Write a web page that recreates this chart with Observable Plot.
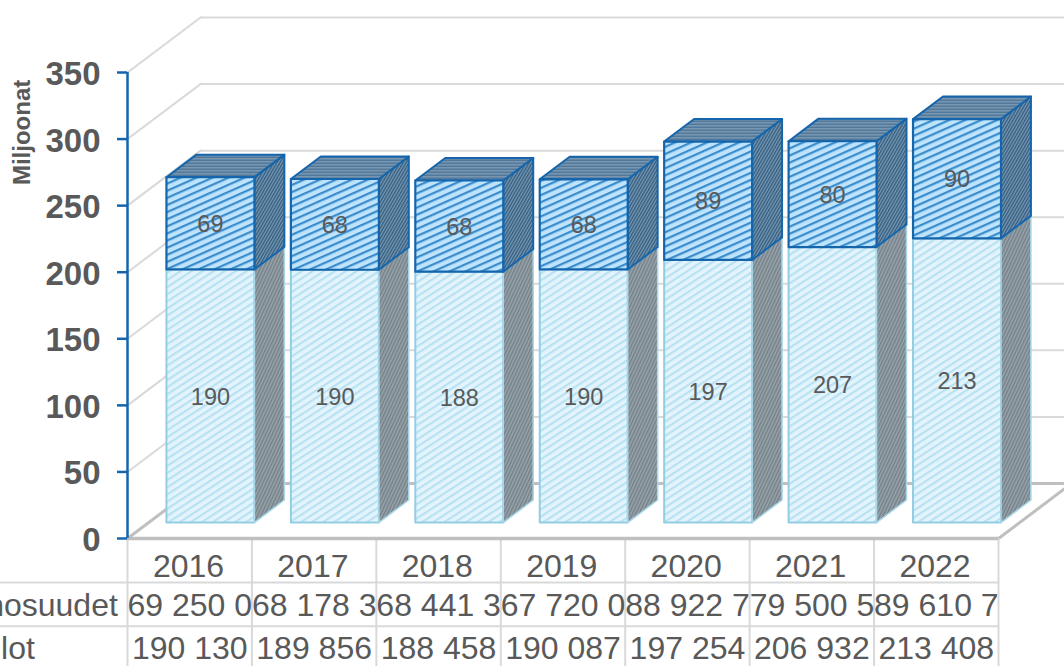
<!DOCTYPE html>
<html><head><meta charset="utf-8">
<script src="https://cdn.jsdelivr.net/npm/d3@7"></script>
<script src="https://cdn.jsdelivr.net/npm/@observablehq/plot@0.6"></script>
<style>html,body{margin:0;padding:0;background:#fff;overflow:hidden}</style>
</head><body><div id="chart"></div>
<script>
const years = ["2016","2017","2018","2019","2020","2021","2022"];
const verotulot = [190.130,189.856,188.458,190.087,197.254,206.932,213.408];
const valtionosuudet = [69.250,68.178,68.441,67.720,88.922,79.500,89.610];
const valtionText = ["69 250 0","68 178 3","68 441 3","67 720 0","88 922 7","79 500 5","89 610 7"];
const verotulotText = ["190 130","189 856","188 458","190 087","197 254","206 932","213 408"];
const rowNames = ["Valtionosuudet","Verotulot"];
const yTicks = [0,50,100,150,200,250,300,350];

// oblique depth projection in data units (one unit of depth moves the point by these amounts)
const depthX = 0.587, depthY = 41.3;
const barStart = 0.313, barEnd = 1.02, depthNear = 0.29, depthFar = 0.70;
const proj = (c, v, d) => ({x: c + d*depthX, y: v + d*depthY});
const poly = (id, pts) => pts.map(p => ({id, ...proj(...p)}));
const rows = {v:-50.5, o:-21, w:-83};

const fronts = (lo, hi) => years.flatMap((yr,i)=>{
  const a=i+barStart-depthNear*depthX, b=i+barEnd-depthNear*depthX;
  const v0=lo(i), v1=hi(i);
  return poly(yr,[[a,v0,depthNear],[b,v0,depthNear],[b,v1,depthNear],[a,v1,depthNear]]);
});
const sides = (lo, hi) => years.flatMap((yr,i)=>{
  const b=i+barEnd-depthNear*depthX;
  return poly(yr,[[b,lo(i),depthNear],[b,lo(i),depthFar],[b,hi(i),depthFar],[b,hi(i),depthNear]]);
});
const tops = (hi) => years.flatMap((yr,i)=>{
  const a=i+barStart-depthNear*depthX, b=i+barEnd-depthNear*depthX;
  return poly(yr,[[a,hi(i),depthNear],[b,hi(i),depthNear],[b,hi(i),depthFar],[a,hi(i),depthFar]]);
});
const lo0 = i => 0, loTop = i => verotulot[i], upTop = i => verotulot[i]+valtionosuudet[i];

function hatch(defs,id,bg,fg,size,w,angle){
  const p=defs.append("pattern").attr("id",id).attr("patternUnits","userSpaceOnUse")
    .attr("width",size).attr("height",size).attr("patternTransform",`rotate(${angle})`);
  p.append("rect").attr("width",size).attr("height",size).attr("fill",bg);
  p.append("rect").attr("width",size).attr("height",w).attr("fill",fg);
}
const patterns = () => {
  const g=d3.create("svg:g"), defs=g.append("defs");
  hatch(defs,"lowFront","#e3f4fc","#b8e2f2",6,2.2,-33);
  hatch(defs,"lowSide","#98a2a8","#707f88",3,1.3,-65);
  hatch(defs,"upFront","#bde4fc","#3a8ccb",6.5,2.2,-24);
  hatch(defs,"upSide","#7b97ad","#2e5d84",2.6,1.3,-60);
  hatch(defs,"upTop","#8ba5bb","#3d6a90",3,1.5,0);
  return g.node();
};

const grid = "#d9d9d9", floor = "#bfbfbf", ink = "#595959", blue="#1565ad";
const face = (data,fill,stroke,strokeWidth)=>Plot.line(data,{x:"x",y:"y",z:"id",curve:"linear-closed",fill,stroke,strokeWidth,strokeLinejoin:"round"});
const lineOf = (id,a,b)=>poly(id,[a,b]);

const wall = yTicks.filter(v=>v>0).flatMap(v=>[...lineOf("s"+v,[0,v,0],[0,v,1]),...lineOf("b"+v,[0,v,1],[7,v,1])]);
const floorEdges = [...lineOf("l",[0,0,0],[0,0,1]),...lineOf("bk",[0,0,1],[7,0,1]),...lineOf("r",[7,0,0],[7,0,1])];

const chart = Plot.plot({
  width:1064,height:666,marginLeft:127,marginRight:66,marginTop:72,marginBottom:128,
  style:{fontFamily:"'Liberation Sans',Arial,sans-serif",background:"#fff"},
  x:{domain:[0,7],axis:null},
  y:{domain:[0,350],axis:null},
  marks:[
    patterns,
    Plot.line(wall,{x:"x",y:"y",z:"id",stroke:grid,strokeWidth:2}),
    Plot.line(floorEdges,{x:"x",y:"y",z:"id",stroke:floor,strokeWidth:3}),
    // table grid
    Plot.ruleX(d3.range(8),{y1:0,y2:-97,stroke:grid,strokeWidth:2}),
    Plot.ruleY([-33,-66],{x1:-2,x2:7,stroke:grid,strokeWidth:2}),
    Plot.ruleY([0],{x1:0,x2:7,stroke:floor,strokeWidth:3.5}),
    // bars
    face(fronts(lo0,loTop),"url(#lowFront)","#93cde4",2),
    face(sides(lo0,loTop),"url(#lowSide)","#a8d8ea",1.5),
    face(sides(loTop,upTop),"url(#upSide)",blue,2),
    face(tops(upTop),"url(#upTop)",blue,2),
    face(fronts(loTop,upTop),"url(#upFront)",blue,2.2),
    // bar labels
    Plot.text(years,{x:(d,i)=>i+(barStart+barEnd)/2,y:(d,i)=>proj(0,verotulot[i]/2,depthNear).y,text:(d,i)=>d3.format(".0f")(verotulot[i]),fontSize:23.5,fill:ink,dy:1}),
    Plot.text(years,{x:(d,i)=>i+(barStart+barEnd)/2,y:(d,i)=>proj(0,verotulot[i]+valtionosuudet[i]/2,depthNear).y,text:(d,i)=>d3.format(".0f")(valtionosuudet[i]),fontSize:23.5,fill:ink,dy:1}),
    // y axis
    Plot.ruleX([0],{y1:0,y2:350,stroke:blue,strokeWidth:2.5}),
    Plot.axisY({ticks:yTicks,anchor:"left",tickSize:10,label:null,stroke:blue,strokeWidth:2.5,fill:"none",tickFormat:d=>d}),
    Plot.axisY({ticks:yTicks,anchor:"left",tickSize:0,tickPadding:27,label:null,fontSize:33,fontWeight:"bold",fill:ink,dy:2,tickFormat:d=>d}),
    Plot.text(["Miljoonat"],{x:()=>0,y:()=>305,dx:-105,rotate:-90,fontSize:24,fontWeight:"bold",fill:ink,text:d=>d}),
    // table text
    Plot.text(years,{x:(d,i)=>i+0.49,y:()=>rows.o,text:d=>d,fontSize:32,fill:ink}),
    Plot.text(valtionText,{x:(d,i)=>i,y:()=>rows.v,text:d=>d,dx:0,textAnchor:"start",fontSize:32,fill:ink}),
    Plot.text(verotulotText,{x:(d,i)=>i+0.5,y:()=>rows.w,text:d=>d,fontSize:32,fill:ink}),
    Plot.text([rowNames[0]],{x:()=>0,y:()=>rows.v,text:d=>d,dx:-219,textAnchor:"start",fontSize:32,fill:ink}),
    Plot.text([rowNames[1]],{x:()=>0,y:()=>rows.w,text:d=>d,dx:-219,textAnchor:"start",fontSize:32,fill:ink})
  ]
});
document.getElementById("chart").append(chart);
</script></body></html>
